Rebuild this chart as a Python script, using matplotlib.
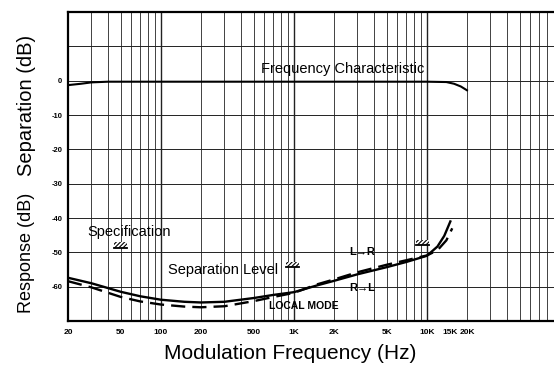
import matplotlib.pyplot as plt
from matplotlib.patches import Rectangle

plt.rcParams["font.family"] = ["Liberation Sans", "DejaVu Sans"]
plt.rcParams["hatch.linewidth"] = 0.8
plt.rcParams["hatch.color"] = "black"

# frequency characteristic (dB)
fc_freq = [20, 25, 30, 40, 60, 100, 1000, 10000, 14000, 16000, 18000, 20000]
fc_db = [-1.3, -0.9, -0.5, -0.3, -0.3, -0.3, -0.3, -0.3, -0.4, -0.9, -1.7, -2.8]

# separation level, two channel directions (dB)
sep_freq = [20, 30, 50, 70, 100, 150, 200, 300, 500, 700, 1000, 1500, 2000,
            3000, 5000, 7000, 10000, 12000, 13500, 15000]
sep_r_to_l = [-57.4, -59.0, -61.5, -62.8, -63.8, -64.4, -64.6, -64.4, -63.3,
              -62.4, -61.6, -59.6, -58.3, -56.4, -54.3, -52.8, -51.0, -48.3,
              -45.2, -41.0]
sep_l_to_r_freq = [20, 30, 50, 70, 100, 150, 200, 300, 500, 700, 1000, 1500,
                   2000, 3000, 5000, 7000, 10000, 12000, 14000, 15500]
sep_l_to_r = [-58.4, -60.2, -63.0, -64.3, -65.2, -65.8, -66.0, -65.7, -64.2,
              -63.0, -61.8, -59.3, -57.9, -55.8, -53.6, -52.3, -50.9, -49.4,
              -46.5, -43.0]

# specification marks (frequency, dB)
spec_freq = [50, 970, 9200]
spec_db = [-48.6, -54.4, -48.0]

xtick_vals = [20, 50, 100, 200, 500, 1000, 2000, 5000, 10000, 15000, 20000]
xtick_text = ["20", "50", "100", "200", "500", "1K", "2K", "5K", "10K", "15K", "20K"]
ytick_vals = [0, -10, -20, -30, -40, -50, -60]

fig = plt.figure(figsize=(5.54, 3.67), dpi=100)
ax = fig.add_axes([0.1227, 0.1253, 0.888, 0.842])
ax.set_xscale("log")
ax.set_xlim(20, 100000)
ax.set_ylim(-70, 20)

# log paper grid
for dec in [10, 100, 1000, 10000]:
    for m in range(1, 10):
        f = m * dec
        if 20 <= f <= 100000:
            lw = 1.0 if m == 1 else 0.6
            ax.axvline(f, color="#222222", lw=lw, zorder=1)
for y in range(-70, 21, 10):
    ax.axhline(y, color="#222222", lw=0.7, zorder=1)

for side in ["left", "top", "bottom"]:
    ax.spines[side].set_linewidth(1.6)
ax.spines["right"].set_visible(False)

ax.plot(fc_freq, fc_db, color="black", lw=1.5, zorder=3)
ax.plot(sep_freq, sep_r_to_l, color="black", lw=1.7, zorder=3)
ax.plot(sep_l_to_r_freq, sep_l_to_r, color="black", lw=1.7,
        dashes=(6, 3), zorder=3)

for f, v in zip(spec_freq, spec_db):
    x0, x1 = f / 1.12, f * 1.12
    ax.add_patch(Rectangle((x0, v), x1 - x0, 1.6, facecolor="white",
                           edgecolor="black", hatch="////////", linewidth=0,
                           zorder=3))
    ax.plot([x0, x1], [v, v], color="black", lw=1.3, zorder=4)

ax.set_xticks(xtick_vals)
ax.set_xticklabels(xtick_text, fontsize=6, fontweight="bold")
ax.xaxis.set_minor_locator(plt.NullLocator())
ax.set_yticks(ytick_vals)
ax.set_yticklabels([str(v) for v in ytick_vals], fontsize=5.5, fontweight="bold")
ax.tick_params(axis="x", length=0, pad=6)
ax.tick_params(axis="y", length=0, pad=4)

ax.text(570, 3.3, "Frequency Characteristic", fontsize=10.5, ha="left", va="center", zorder=4)
ax.text(28, -44, "Specification", fontsize=10.5, ha="left", va="center", zorder=4)
ax.text(113, -55, "Separation Level", fontsize=10.5, ha="left", va="center", zorder=4)
ax.text(2600, -49.8, "L→R", fontsize=8, fontweight="bold", ha="left", va="center", zorder=4)
ax.text(2600, -60.3, "R→L", fontsize=8, fontweight="bold", ha="left", va="center", zorder=4)
ax.text(650, -65.5, "LOCAL MODE", fontsize=7.5, fontweight="bold", ha="left", va="center", zorder=4)

fig.text(0.047, 0.712, "Separation (dB)", rotation=90, fontsize=14.5, ha="center", va="center")
fig.text(0.047, 0.311, "Response (dB)", rotation=90, fontsize=13, ha="center", va="center")
fig.text(0.523, 0.038, "Modulation Frequency (Hz)", fontsize=15, ha="center", va="center")

fig.savefig("out.png", dpi=100)
